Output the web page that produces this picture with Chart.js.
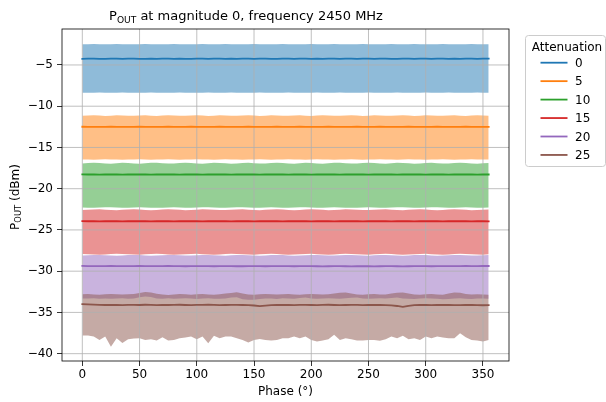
<!DOCTYPE html>
<html>
<head>
<meta charset="utf-8">
<script src="https://cdn.jsdelivr.net/npm/chart.js@4.4.1/dist/chart.umd.min.js"></script>
<style>
  html, body { margin: 0; padding: 0; background: #fff; }
  #wrap { width: 606px; height: 402px; }
</style>
</head>
<body>
<div id="wrap"><canvas id="chart" width="606" height="402"></canvas></div>
<script>
// phase sweep in degrees
const phases = [
  0, 5, 10, 15, 20, 25, 30, 35, 40, 45, 50, 55,
  60, 65, 70, 75, 80, 85, 90, 95, 100, 105, 110, 115,
  120, 125, 130, 135, 140, 145, 150, 155, 160, 165, 170, 175,
  180, 185, 190, 195, 200, 205, 210, 215, 220, 225, 230, 235,
  240, 245, 250, 255, 260, 265, 270, 275, 280, 285, 290, 295,
  300, 305, 310, 315, 320, 325, 330, 335, 340, 345, 350, 355
];
const attenuations = ['0', '5', '10', '15', '20', '25'];
const xTicks = [0, 50, 100, 150, 200, 250, 300, 350];
const yTicks = [-40, -35, -30, -25, -20, -15, -10, -5];

// attenuation 0
const upper0 = [
  -2.49,-2.48,-2.47,-2.48,-2.49,-2.48,-2.47,-2.48,-2.48,-2.49,-2.48,-2.47,
  -2.48,-2.49,-2.48,-2.48,-2.47,-2.48,-2.49,-2.48,-2.48,-2.47,-2.48,-2.49,
  -2.48,-2.47,-2.48,-2.48,-2.49,-2.48,-2.47,-2.48,-2.48,-2.49,-2.48,-2.47,
  -2.48,-2.49,-2.48,-2.48,-2.47,-2.48,-2.49,-2.48,-2.47,-2.48,-2.48,-2.49,
  -2.48,-2.47,-2.48,-2.49,-2.48,-2.48,-2.47,-2.48,-2.49,-2.48,-2.47,-2.48,
  -2.48,-2.49,-2.48,-2.47,-2.48,-2.49,-2.48,-2.48,-2.47,-2.48,-2.49,-2.48
];
const mean0 = [
  -4.25,-4.24,-4.24,-4.25,-4.25,-4.24,-4.24,-4.25,-4.24,-4.24,-4.25,-4.25,
  -4.24,-4.25,-4.24,-4.24,-4.25,-4.24,-4.25,-4.25,-4.24,-4.24,-4.25,-4.24,
  -4.24,-4.25,-4.24,-4.25,-4.24,-4.24,-4.25,-4.24,-4.24,-4.25,-4.25,-4.24,
  -4.24,-4.25,-4.24,-4.24,-4.25,-4.24,-4.25,-4.24,-4.24,-4.25,-4.24,-4.24,
  -4.25,-4.24,-4.24,-4.25,-4.24,-4.24,-4.25,-4.25,-4.24,-4.24,-4.25,-4.24,
  -4.24,-4.25,-4.24,-4.24,-4.25,-4.24,-4.25,-4.24,-4.24,-4.25,-4.24,-4.24
];
const lower0 = [
  -8.37,-8.36,-8.36,-8.35,-8.36,-8.37,-8.36,-8.35,-8.36,-8.36,-8.37,-8.36,
  -8.35,-8.36,-8.36,-8.37,-8.36,-8.35,-8.36,-8.37,-8.36,-8.36,-8.35,-8.36,
  -8.37,-8.36,-8.35,-8.36,-8.36,-8.37,-8.36,-8.35,-8.36,-8.36,-8.37,-8.36,
  -8.35,-8.36,-8.37,-8.36,-8.36,-8.35,-8.36,-8.37,-8.36,-8.35,-8.36,-8.36,
  -8.37,-8.36,-8.35,-8.36,-8.36,-8.37,-8.36,-8.35,-8.36,-8.37,-8.36,-8.36,
  -8.35,-8.36,-8.37,-8.36,-8.35,-8.36,-8.36,-8.37,-8.36,-8.35,-8.36,-8.36
];

// attenuation 5
const upper5 = [
  -11.16,-11.12,-11.10,-11.14,-11.18,-11.15,-11.11,-11.13,-11.17,-11.16,-11.12,-11.11,
  -11.15,-11.18,-11.14,-11.10,-11.12,-11.16,-11.17,-11.13,-11.11,-11.14,-11.18,-11.15,
  -11.11,-11.12,-11.16,-11.17,-11.13,-11.10,-11.14,-11.18,-11.15,-11.11,-11.13,-11.17,
  -11.16,-11.12,-11.11,-11.15,-11.18,-11.14,-11.10,-11.12,-11.16,-11.17,-11.13,-11.11,
  -11.14,-11.18,-11.15,-11.11,-11.12,-11.16,-11.17,-11.13,-11.10,-11.14,-11.18,-11.15,
  -11.11,-11.13,-11.17,-11.16,-11.12,-11.11,-11.15,-11.18,-11.14,-11.10,-11.13,-11.16
];
const mean5 = [
  -12.49,-12.50,-12.50,-12.51,-12.50,-12.49,-12.50,-12.51,-12.50,-12.50,-12.49,-12.50,
  -12.51,-12.50,-12.50,-12.49,-12.50,-12.51,-12.50,-12.49,-12.50,-12.50,-12.51,-12.50,
  -12.49,-12.50,-12.51,-12.50,-12.50,-12.49,-12.50,-12.51,-12.50,-12.50,-12.49,-12.50,
  -12.51,-12.50,-12.49,-12.50,-12.50,-12.51,-12.50,-12.49,-12.50,-12.51,-12.50,-12.50,
  -12.49,-12.50,-12.51,-12.50,-12.49,-12.50,-12.50,-12.51,-12.50,-12.49,-12.50,-12.50,
  -12.51,-12.50,-12.49,-12.50,-12.51,-12.50,-12.50,-12.49,-12.50,-12.51,-12.50,-12.50
];
const lower5 = [
  -16.45,-16.47,-16.48,-16.46,-16.44,-16.45,-16.47,-16.48,-16.46,-16.45,-16.44,-16.46,
  -16.48,-16.47,-16.45,-16.44,-16.46,-16.48,-16.47,-16.45,-16.44,-16.46,-16.47,-16.48,
  -16.46,-16.44,-16.45,-16.47,-16.48,-16.46,-16.45,-16.44,-16.46,-16.48,-16.47,-16.45,
  -16.44,-16.46,-16.47,-16.48,-16.46,-16.44,-16.45,-16.47,-16.48,-16.46,-16.45,-16.44,
  -16.46,-16.48,-16.47,-16.45,-16.44,-16.46,-16.47,-16.48,-16.46,-16.44,-16.45,-16.47,
  -16.48,-16.46,-16.45,-16.44,-16.46,-16.48,-16.47,-16.45,-16.44,-16.46,-16.47,-16.46
];

// attenuation 10
const upper10 = [
  -16.95,-16.90,-16.86,-16.89,-16.95,-16.97,-16.92,-16.87,-16.88,-16.94,-16.97,-16.93,
  -16.87,-16.86,-16.91,-16.96,-16.95,-16.89,-16.86,-16.90,-16.96,-16.97,-16.91,-16.87,
  -16.88,-16.93,-16.97,-16.94,-16.88,-16.86,-16.91,-16.96,-16.95,-16.90,-16.86,-16.89,
  -16.95,-16.97,-16.92,-16.87,-16.88,-16.94,-16.97,-16.93,-16.87,-16.86,-16.91,-16.96,
  -16.95,-16.89,-16.86,-16.90,-16.96,-16.97,-16.91,-16.87,-16.88,-16.93,-16.97,-16.94,
  -16.88,-16.86,-16.91,-16.96,-16.95,-16.90,-16.86,-16.89,-16.95,-16.97,-16.92,-16.89
];
const mean10 = [
  -18.27,-18.28,-18.28,-18.29,-18.28,-18.27,-18.28,-18.29,-18.28,-18.28,-18.27,-18.28,
  -18.29,-18.28,-18.27,-18.28,-18.28,-18.29,-18.28,-18.27,-18.28,-18.29,-18.28,-18.28,
  -18.27,-18.28,-18.29,-18.28,-18.28,-18.27,-18.28,-18.29,-18.28,-18.27,-18.28,-18.28,
  -18.29,-18.28,-18.27,-18.28,-18.29,-18.28,-18.28,-18.27,-18.28,-18.29,-18.28,-18.28,
  -18.27,-18.28,-18.29,-18.28,-18.27,-18.28,-18.28,-18.29,-18.28,-18.27,-18.28,-18.28,
  -18.29,-18.28,-18.27,-18.28,-18.29,-18.28,-18.28,-18.27,-18.28,-18.29,-18.28,-18.28
];
const lower10 = [
  -22.27,-22.30,-22.32,-22.29,-22.26,-22.25,-22.28,-22.31,-22.32,-22.29,-22.26,-22.27,
  -22.30,-22.32,-22.30,-22.27,-22.25,-22.27,-22.30,-22.32,-22.29,-22.26,-22.26,-22.29,
  -22.32,-22.31,-22.28,-22.25,-22.26,-22.29,-22.32,-22.30,-22.27,-22.25,-22.27,-22.30,
  -22.32,-22.29,-22.26,-22.25,-22.28,-22.31,-22.32,-22.29,-22.26,-22.27,-22.30,-22.32,
  -22.30,-22.27,-22.25,-22.27,-22.30,-22.32,-22.29,-22.26,-22.26,-22.29,-22.32,-22.31,
  -22.28,-22.25,-22.26,-22.29,-22.32,-22.30,-22.27,-22.25,-22.27,-22.30,-22.32,-22.29
];

// attenuation 15
const upper15 = [
  -22.58,-22.55,-22.51,-22.50,-22.54,-22.58,-22.60,-22.56,-22.52,-22.50,-22.53,-22.57,
  -22.60,-22.57,-22.53,-22.50,-22.52,-22.56,-22.60,-22.58,-22.54,-22.50,-22.51,-22.55,
  -22.59,-22.59,-22.55,-22.51,-22.50,-22.54,-22.58,-22.60,-22.56,-22.52,-22.50,-22.53,
  -22.57,-22.60,-22.57,-22.53,-22.50,-22.52,-22.56,-22.60,-22.58,-22.54,-22.50,-22.51,
  -22.55,-22.59,-22.59,-22.55,-22.51,-22.50,-22.54,-22.58,-22.60,-22.56,-22.52,-22.50,
  -22.53,-22.57,-22.60,-22.57,-22.53,-22.50,-22.52,-22.56,-22.60,-22.58,-22.54,-22.52
];
const mean15 = [
  -23.94,-23.95,-23.95,-23.96,-23.95,-23.94,-23.95,-23.96,-23.95,-23.95,-23.94,-23.95,
  -23.96,-23.95,-23.94,-23.95,-23.96,-23.95,-23.95,-23.94,-23.95,-23.96,-23.95,-23.94,
  -23.95,-23.95,-23.96,-23.95,-23.94,-23.95,-23.96,-23.95,-23.95,-23.94,-23.95,-23.96,
  -23.95,-23.94,-23.95,-23.95,-23.96,-23.95,-23.94,-23.95,-23.96,-23.95,-23.95,-23.94,
  -23.95,-23.96,-23.95,-23.94,-23.95,-23.95,-23.96,-23.95,-23.94,-23.95,-23.96,-23.95,
  -23.95,-23.94,-23.95,-23.96,-23.95,-23.94,-23.95,-23.95,-23.96,-23.95,-23.94,-23.95
];
const lower15 = [
  -27.93,-27.96,-27.99,-28.00,-27.97,-27.93,-27.90,-27.92,-27.96,-27.99,-28.00,-27.96,
  -27.92,-27.90,-27.93,-27.97,-28.00,-27.99,-27.95,-27.91,-27.90,-27.94,-27.98,-28.00,
  -27.97,-27.93,-27.90,-27.92,-27.96,-27.99,-28.00,-27.96,-27.92,-27.90,-27.93,-27.97,
  -28.00,-27.99,-27.95,-27.91,-27.90,-27.94,-27.98,-28.00,-27.97,-27.93,-27.90,-27.92,
  -27.96,-27.99,-28.00,-27.96,-27.92,-27.90,-27.93,-27.97,-28.00,-27.99,-27.95,-27.91,
  -27.90,-27.94,-27.98,-28.00,-27.97,-27.93,-27.90,-27.92,-27.96,-27.99,-28.00,-27.96
];

// attenuation 20
const upper20 = [
  -28.10,-28.07,-28.04,-28.03,-28.06,-28.10,-28.12,-28.09,-28.05,-28.03,-28.05,-28.09,
  -28.12,-28.10,-28.06,-28.03,-28.04,-28.08,-28.11,-28.11,-28.07,-28.04,-28.03,-28.07,
  -28.10,-28.12,-28.08,-28.04,-28.03,-28.06,-28.10,-28.12,-28.09,-28.05,-28.03,-28.05,
  -28.09,-28.12,-28.10,-28.06,-28.03,-28.04,-28.08,-28.11,-28.11,-28.07,-28.04,-28.03,
  -28.07,-28.10,-28.12,-28.08,-28.04,-28.03,-28.06,-28.10,-28.12,-28.09,-28.05,-28.03,
  -28.05,-28.09,-28.12,-28.10,-28.06,-28.03,-28.04,-28.08,-28.11,-28.11,-28.07,-28.05
];
const mean20 = [
  -29.37,-29.38,-29.38,-29.39,-29.38,-29.37,-29.38,-29.39,-29.38,-29.38,-29.37,-29.38,
  -29.39,-29.38,-29.38,-29.37,-29.38,-29.39,-29.40,-29.39,-29.38,-29.38,-29.39,-29.40,
  -29.39,-29.38,-29.39,-29.40,-29.40,-29.39,-29.38,-29.39,-29.40,-29.39,-29.39,-29.38,
  -29.39,-29.40,-29.39,-29.38,-29.39,-29.40,-29.41,-29.40,-29.39,-29.39,-29.40,-29.41,
  -29.40,-29.39,-29.40,-29.41,-29.40,-29.39,-29.39,-29.40,-29.41,-29.40,-29.39,-29.38,
  -29.39,-29.40,-29.39,-29.38,-29.39,-29.38,-29.38,-29.37,-29.38,-29.38,-29.37,-29.37
];
const lower20 = [
  -33.30,-33.32,-33.28,-33.33,-33.30,-33.35,-33.31,-33.28,-33.33,-33.30,-33.15,-33.08,
  -33.12,-33.30,-33.33,-33.28,-33.35,-33.31,-33.27,-33.32,-33.36,-33.30,-33.28,-33.33,
  -33.35,-33.30,-33.20,-33.15,-33.40,-33.47,-33.45,-33.38,-33.32,-33.30,-33.36,-33.28,
  -33.30,-33.33,-33.25,-33.18,-33.30,-33.35,-33.32,-33.28,-33.30,-33.34,-33.29,-33.22,
  -33.20,-33.30,-33.35,-33.31,-33.28,-33.32,-33.25,-33.20,-33.30,-33.33,-33.36,-33.30,
  -33.27,-33.32,-33.35,-33.40,-33.38,-33.30,-33.28,-33.33,-33.36,-33.31,-33.30,-33.34
];

// attenuation 25
const upper25 = [
  -32.80,-32.78,-32.82,-32.85,-32.80,-32.76,-32.80,-32.84,-32.81,-32.78,-32.65,-32.52,
  -32.58,-32.75,-32.82,-32.88,-32.82,-32.78,-32.80,-32.85,-32.79,-32.76,-32.82,-32.86,
  -32.80,-32.72,-32.65,-32.55,-32.70,-32.82,-32.86,-32.80,-32.76,-32.80,-32.84,-32.80,
  -32.78,-32.82,-32.85,-32.79,-32.76,-32.80,-32.84,-32.81,-32.70,-32.62,-32.60,-32.72,
  -32.82,-32.86,-32.80,-32.78,-32.82,-32.84,-32.72,-32.62,-32.60,-32.70,-32.82,-32.86,
  -32.80,-32.76,-32.82,-32.85,-32.70,-32.60,-32.62,-32.78,-32.84,-32.80,-32.82,-32.86
];
const mean25 = [
  -34.00,-34.03,-34.06,-34.09,-34.10,-34.08,-34.10,-34.12,-34.09,-34.08,-34.10,-34.07,
  -34.09,-34.11,-34.08,-34.10,-34.09,-34.07,-34.10,-34.12,-34.09,-34.08,-34.06,-34.09,
  -34.11,-34.10,-34.08,-34.09,-34.10,-34.12,-34.16,-34.24,-34.18,-34.12,-34.10,-34.08,
  -34.10,-34.12,-34.09,-34.08,-34.10,-34.11,-34.09,-34.07,-34.10,-34.12,-34.10,-34.08,
  -34.09,-34.11,-34.10,-34.08,-34.10,-34.12,-34.15,-34.22,-34.33,-34.20,-34.12,-34.10,
  -34.09,-34.11,-34.10,-34.08,-34.10,-34.12,-34.11,-34.09,-34.10,-34.12,-34.13,-34.12
];
const lower25 = [
  -37.80,-37.80,-37.93,-38.35,-37.93,-39.15,-38.13,-38.70,-38.25,-38.17,-38.13,-38.33,
  -38.25,-38.41,-38.01,-38.41,-38.33,-38.13,-38.05,-37.93,-38.25,-37.93,-38.75,-37.84,
  -38.13,-37.93,-37.93,-38.13,-38.33,-38.65,-38.33,-38.21,-38.33,-38.41,-38.33,-38.13,
  -38.13,-37.93,-38.13,-37.93,-38.33,-38.53,-38.41,-38.25,-37.72,-38.33,-38.13,-38.25,
  -38.41,-38.41,-38.33,-38.33,-38.45,-38.25,-37.93,-38.13,-37.84,-38.25,-38.13,-38.33,
  -37.93,-38.13,-37.93,-38.05,-38.13,-38.13,-37.52,-38.01,-38.33,-38.41,-38.53,-38.33
];

const uppers = [upper0, upper5, upper10, upper15, upper20, upper25];
const means = [mean0, mean5, mean10, mean15, mean20, mean25];
const lowers = [lower0, lower5, lower10, lower15, lower20, lower25];

const lineColors = ['#1f77b4', '#ff7f0e', '#2ca02c', '#d62728', '#9467bd', '#8c564b'];
const bandColors = ['rgba(31,119,180,0.5)', 'rgba(255,127,14,0.5)', 'rgba(44,160,44,0.5)',
                    'rgba(214,39,40,0.5)', 'rgba(148,103,189,0.5)', 'rgba(140,86,75,0.5)'];

const FONT = "'DejaVu Sans', sans-serif";
const toPoints = arr => phases.map((p, i) => ({ x: p, y: arr[i] }));

// bands first, last attenuation at the lowest index so the filler (which
// paints in reverse) lays it on top, like matplotlib does
const datasets = [];
for (let k = attenuations.length - 1; k >= 0; k--) {
  const upIdx = datasets.length;
  datasets.push({
    label: 'band-hi-' + attenuations[k], data: toPoints(uppers[k]),
    borderColor: 'transparent', borderWidth: 0, pointRadius: 0, fill: false
  });
  datasets.push({
    label: 'band-lo-' + attenuations[k], data: toPoints(lowers[k]),
    borderColor: 'transparent', borderWidth: 0, pointRadius: 0,
    backgroundColor: bandColors[k], fill: upIdx
  });
}
attenuations.forEach((a, k) => {
  datasets.push({
    label: a, data: toPoints(means[k]), isMean: true,
    borderColor: lineColors[k], borderWidth: 1.8, pointRadius: 0, fill: false
  });
});

// grid above the fills but under the lines, spines on top, legend + texts
const mplPlugin = {
  id: 'mpl',
  beforeDatasetsDraw(chart) {
    const { ctx, chartArea: a, scales: { x, y } } = chart;
    ctx.save();
    ctx.strokeStyle = '#b0b0b0';
    ctx.lineWidth = 0.8;
    ctx.beginPath();
    xTicks.forEach(v => { const px = x.getPixelForValue(v); ctx.moveTo(px, a.top); ctx.lineTo(px, a.bottom); });
    yTicks.forEach(v => { const py = y.getPixelForValue(v); ctx.moveTo(a.left, py); ctx.lineTo(a.right, py); });
    ctx.stroke();
    ctx.restore();
  },
  afterDatasetsDraw(chart) {
    const { ctx, chartArea: a } = chart;
    ctx.save();
    ctx.strokeStyle = '#000';
    ctx.lineWidth = 0.8;
    ctx.strokeRect(a.left, a.top, a.right - a.left, a.bottom - a.top);
    ctx.restore();
  },
  afterDraw(chart) {
    const { ctx, chartArea: a } = chart;
    ctx.save();
    ctx.fillStyle = '#000';
    ctx.textBaseline = 'alphabetic';

    // text with a subscript part, centred on cx
    const drawSub = (parts, cx, cy, size) => {
      const sub = size * 0.7;
      ctx.font = size + 'px ' + FONT;
      const w1 = ctx.measureText(parts[0]).width, w3 = ctx.measureText(parts[2]).width;
      ctx.font = sub + 'px ' + FONT;
      const w2 = ctx.measureText(parts[1]).width;
      let x0 = cx - (w1 + w2 + w3) / 2;
      ctx.textAlign = 'left';
      ctx.font = size + 'px ' + FONT; ctx.fillText(parts[0], x0, cy); x0 += w1;
      ctx.font = sub + 'px ' + FONT; ctx.fillText(parts[1], x0, cy + size * 0.2); x0 += w2;
      ctx.font = size + 'px ' + FONT; ctx.fillText(parts[2], x0, cy);
    };
    drawSub(['P', 'OUT', ' at magnitude 0, frequency 2450 MHz'], 246, 20, 13);

    // y axis title
    ctx.save();
    ctx.translate(18.5, (a.top + a.bottom) / 2 + 2);
    ctx.rotate(-Math.PI / 2);
    drawSub(['P', 'OUT', ' (dBm)'], 0, 0, 12);
    ctx.restore();

    // x axis title
    ctx.font = '12px ' + FONT;
    ctx.textAlign = 'center';
    ctx.fillText('Phase (°)', (a.left + a.right) / 2, 395);

    // legend
    const bx = 525.5, by = 35.5, bw = 80, bh = 131;
    ctx.beginPath();
    ctx.roundRect(bx, by, bw, bh, 3);
    ctx.fillStyle = 'rgba(255,255,255,0.8)';
    ctx.fill();
    ctx.strokeStyle = '#cccccc';
    ctx.lineWidth = 1;
    ctx.stroke();
    ctx.fillStyle = '#000';
    ctx.font = '12px ' + FONT;
    ctx.textAlign = 'center';
    ctx.fillText('Attenuation', 567, 50.5);
    ctx.textAlign = 'left';
    ctx.textBaseline = 'middle';
    const meanSets = chart.data.datasets.filter(d => d.isMean);
    meanSets.forEach((d, i) => {
      const ry = 62.7 + i * 18.45;
      ctx.strokeStyle = d.borderColor;
      ctx.lineWidth = 1.8;
      ctx.beginPath();
      ctx.moveTo(540.5, ry);
      ctx.lineTo(567.5, ry);
      ctx.stroke();
      ctx.fillText(d.label, 575, ry + 1);
    });
    ctx.restore();
  }
};

const tickFont = { family: FONT, size: 12 };

new Chart(document.getElementById('chart'), {
  type: 'line',
  data: { datasets },
  options: {
    responsive: false,
    animation: false,
    events: [],
    layout: { padding: { left: 0, top: 29, right: 97, bottom: 0 } },
    elements: { line: { tension: 0, borderCapStyle: 'square' } },
    plugins: {
      legend: { display: false },
      title: { display: false },
      tooltip: { enabled: false },
      filler: { drawTime: 'beforeDatasetsDraw', propagate: false }
    },
    scales: {
      x: {
        type: 'linear',
        min: -17.75, max: 372.75,
        afterBuildTicks: s => { s.ticks = xTicks.map(v => ({ value: v })); },
        afterFit: s => { s.height = 41; },
        ticks: { font: tickFont, color: '#000', padding: 2, maxRotation: 0,
                 callback: v => String(v).replace('-', '\u2212') },
        grid: { drawOnChartArea: false, drawTicks: true, tickLength: 5, tickColor: '#000', tickWidth: 0.8 },
        border: { display: false }
      },
      y: {
        type: 'linear',
        min: -40.89, max: -0.64,
        afterBuildTicks: s => { s.ticks = yTicks.map(v => ({ value: v })); },
        afterFit: s => { s.width = 62; },
        ticks: { font: tickFont, color: '#000', padding: 4,
                 callback: v => String(v).replace('-', '\u2212') },
        grid: { drawOnChartArea: false, drawTicks: true, tickLength: 5, tickColor: '#000', tickWidth: 0.8 },
        border: { display: false }
      }
    }
  },
  plugins: [mplPlugin]
});
</script>
</body>
</html>
